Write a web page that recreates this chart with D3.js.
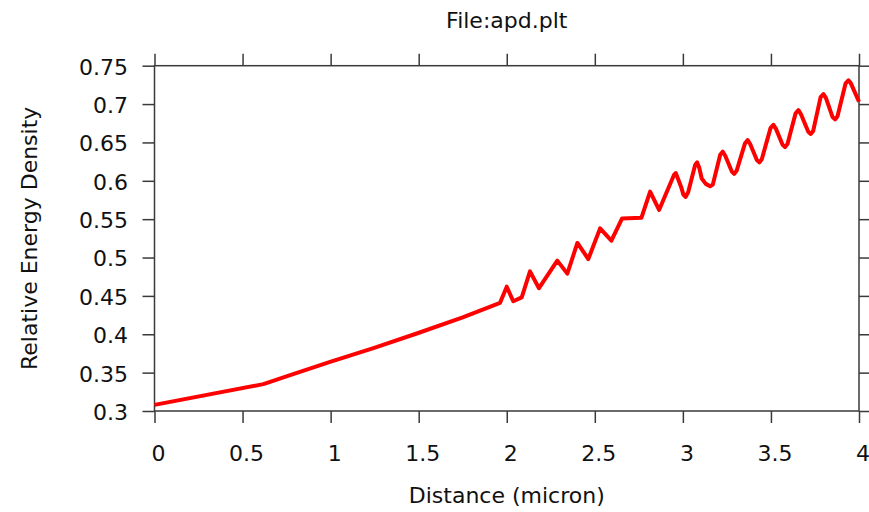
<!DOCTYPE html>
<html>
<head>
<meta charset="utf-8">
<script src="https://cdn.jsdelivr.net/npm/d3@7"></script>
<style>
  body { margin: 0; background: #fff; }
  svg text { font-family: "DejaVu Sans", Verdana, sans-serif; fill: #111; }
  .axis path { display: none; }
  .axis line { stroke: #3a3a3a; stroke-width: 1.5; }
</style>
</head>
<body>
<script>
var width = 869,
    height = 512,
    margin = {top: 65.7, right: 10, bottom: 101, left: 154.5};

// values
var distance = [0, 0.618, 0.80, 0.997, 1.243, 1.489, 1.75, 1.962,
    2.0, 2.037, 2.085, 2.132, 2.183, 2.287, 2.344, 2.401, 2.463, 2.530, 2.594,
    2.655, 2.765, 2.814, 2.865, 2.950, 2.960, 2.975, 2.990, 3.003, 3.015, 3.030,
    3.070, 3.081, 3.093, 3.107, 3.130, 3.155, 3.170, 3.212, 3.226, 3.240,
    3.278, 3.291, 3.305, 3.353, 3.368, 3.382, 3.420, 3.434, 3.448,
    3.498, 3.514, 3.528, 3.566, 3.580, 3.594, 3.640, 3.656, 3.670,
    3.712, 3.726, 3.740, 3.782, 3.798, 3.812, 3.850, 3.864, 3.878,
    3.924, 3.940, 3.954, 4.0];
var density = [0.308, 0.335, 0.349, 0.364, 0.382, 0.401, 0.422, 0.441,
    0.462, 0.443, 0.448, 0.482, 0.460, 0.496, 0.479, 0.519, 0.498, 0.538, 0.522,
    0.551, 0.552, 0.586, 0.562, 0.608, 0.610, 0.601, 0.592, 0.582, 0.579, 0.585,
    0.621, 0.624, 0.617, 0.603, 0.596, 0.593, 0.595, 0.634, 0.638, 0.633,
    0.612, 0.609, 0.613, 0.649, 0.653, 0.648, 0.627, 0.624, 0.628,
    0.669, 0.673, 0.668, 0.647, 0.644, 0.648, 0.688, 0.692, 0.687,
    0.664, 0.661, 0.665, 0.709, 0.713, 0.708, 0.683, 0.680, 0.684,
    0.727, 0.731, 0.727, 0.703];

var xTicks = [0, 0.5, 1, 1.5, 2, 2.5, 3, 3.5, 4];
var yTicks = [0.3, 0.35, 0.4, 0.45, 0.5, 0.55, 0.6, 0.65, 0.7, 0.75];

var title = "File:apd.plt",
    xLabel = "Distance (micron)",
    yLabel = "Relative Energy Density";

var w = width - margin.left - margin.right,
    h = height - margin.top - margin.bottom;

var x = d3.scaleLinear().domain([0, 4]).range([0, w]);
var y = d3.scaleLinear().domain([0.3, 0.75]).range([h, 0]);

var svg = d3.select("body").append("svg")
    .attr("width", width)
    .attr("height", height);

var g = svg.append("g")
    .attr("transform", "translate(" + margin.left + "," + margin.top + ")");

// axes: ticks outside on all four sides
g.append("g").attr("class", "axis")
    .attr("transform", "translate(0," + h + ")")
    .call(d3.axisBottom(x).tickValues(xTicks).tickSize(12).tickSizeOuter(0).tickFormat(d3.format("")))
    .selectAll("text")
    .attr("y", 50).attr("dy", null).attr("dx", 3.5)
    .style("font-size", "22px");

g.append("g").attr("class", "axis")
    .call(d3.axisLeft(y).tickValues(yTicks).tickSize(12).tickSizeOuter(0).tickFormat(d3.format("")))
    .selectAll("text")
    .attr("x", -26.5).attr("dy", "0.38em")
    .style("font-size", "22px");

g.append("g").attr("class", "axis")
    .call(d3.axisTop(x).tickValues(xTicks).tickSize(12).tickSizeOuter(0).tickFormat(""));

g.append("g").attr("class", "axis")
    .attr("transform", "translate(" + w + ",0)")
    .call(d3.axisRight(y).tickValues(yTicks).tickSize(12).tickSizeOuter(0).tickFormat(""));

g.selectAll(".axis .tick text").attr("fill", "#111");

// frame
g.append("rect")
    .attr("width", w)
    .attr("height", h)
    .attr("fill", "none")
    .attr("stroke", "#3a3a3a")
    .attr("stroke-width", 1.5);

var line = d3.line()
    .x(function (d) { return x(d[0]); })
    .y(function (d) { return y(d[1]); });

g.append("path")
    .datum(d3.zip(distance, density))
    .attr("fill", "none")
    .attr("stroke", "#ff0000")
    .attr("stroke-width", 4)
    .attr("stroke-linejoin", "round")
    .attr("d", line);

// titles
svg.append("text")
    .attr("x", margin.left + w / 2)
    .attr("y", 28)
    .attr("text-anchor", "middle")
    .style("font-size", "22px")
    .text(title);

svg.append("text")
    .attr("x", margin.left + w / 2)
    .attr("y", 503)
    .attr("text-anchor", "middle")
    .style("font-size", "22px")
    .text(xLabel);

svg.append("text")
    .attr("transform", "translate(37," + (margin.top + h / 2) + ")rotate(-90)")
    .attr("text-anchor", "middle")
    .style("font-size", "22px")
    .text(yLabel);
</script>
</body>
</html>
